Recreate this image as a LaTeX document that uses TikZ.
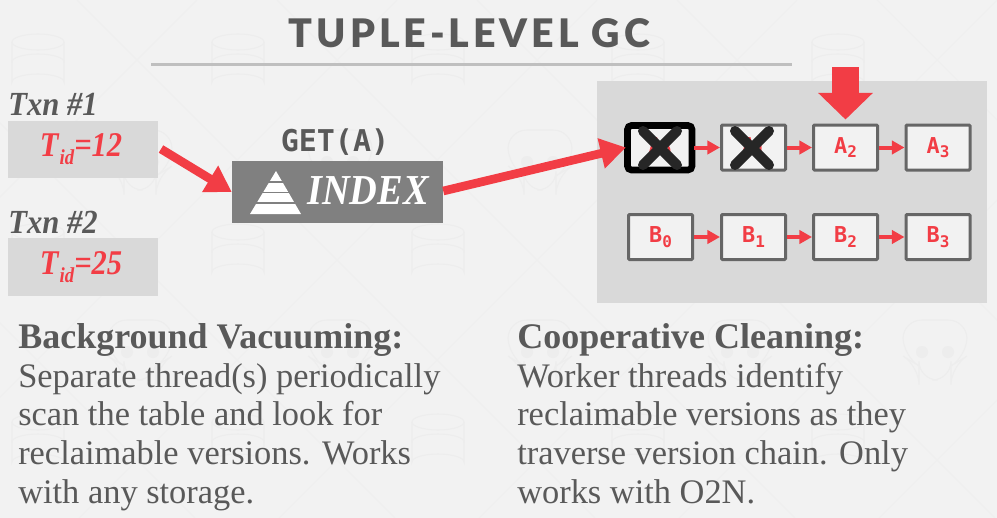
\documentclass[tikz,border=0pt]{standalone}
\usepackage{fontspec}
\usepackage{graphicx}
\usetikzlibrary{arrows.meta}
\setmainfont{Liberation Serif}
\newfontfamily\titlefont[LetterSpace=10]{Lato Black}
\newfontfamily\codefont{DejaVu Sans Mono}
\definecolor{bgc}{HTML}{F2F2F2}
\definecolor{panel}{HTML}{D9D9D9}
\definecolor{redc}{HTML}{F23D45}
\definecolor{darkt}{HTML}{595959}
\definecolor{idx}{HTML}{808080}
\definecolor{xc}{HTML}{262626}
\definecolor{wm}{HTML}{EDEDED}
\newcommand{\ver}[2]{\raisebox{-2.2pt}{#1\raisebox{-3.5pt}{\fontsize{12}{12}\selectfont #2}}}
\newcommand{\tidtext}[1]{\scalebox{0.88}[1]{T\kern1pt\raisebox{-6pt}{\fontsize{16}{16}\selectfont id}=#1}}
\tikzset{
  x=0.75pt,y=-0.75pt,
  verbox/.style={draw=black!60,line width=2.25pt,rounded corners=0.8pt,fill=bgc,minimum width=48pt,minimum height=33.75pt,inner sep=0pt,text=redc,font=\codefont\bfseries\fontsize{16.4}{16.4}\selectfont},
  smallarrow/.style={redc,line width=3pt,-{Triangle[length=9.5pt,width=10pt]}},
  bigarrow/.style={redc,line width=6.5pt,-{Triangle[length=19pt,width=22pt]}},
  crossmark/.style={xc,line width=7.5pt,line cap=round},
  tidbox/.style={fill=panel,minimum width=112.5pt,minimum height=43pt,inner sep=0pt,text=redc,font=\bfseries\itshape\fontsize{26}{26}\selectfont},
  txnlabel/.style={anchor=west,inner sep=0pt,text=darkt,font=\bfseries\itshape\fontsize{23}{23}\selectfont},
  bodytext/.style={anchor=north west,inner sep=0pt,align=left,text=darkt,font=\fontsize{25.8}{29.1}\selectfont},
  wmline/.style={wm,line width=0.8pt}
}
\begin{document}
\begin{tikzpicture}
\useasboundingbox (0,0) rectangle (997,518);
\fill[bgc] (0,0) rectangle (997,518);
% watermark: lattice
\foreach \k in {-3,...,6}{
  \draw[wmline,bgc!50!wm] (137+200*\k-60,0) -- (137+200*\k+458,518);
  \draw[wmline,bgc!50!wm] (137+200*\k+60,0) -- (137+200*\k-458,518);
}
% watermark: cylinders
\foreach \cx/\cy in {38/60,238/60,438/60,638/60,838/60,38/250,238/250,438/250,638/250,38/440,238/440,438/440,638/440,838/440}{
  \draw[wmline] (\cx-26,\cy-18) arc[start angle=180,end angle=-180,x radius=26,y radius=8];
  \draw[wmline] (\cx-26,\cy-18) -- (\cx-26,\cy+22) arc[start angle=180,end angle=360,x radius=26,y radius=8] -- (\cx+26,\cy-18);
  \draw[wmline] (\cx-26,\cy+2) arc[start angle=180,end angle=360,x radius=26,y radius=8];
}
% watermark: skulls
\foreach \cx/\cy in {140/160,340/160,540/160,140/350,340/350,540/350,740/350,935/350}{
  \draw[wmline,rounded corners=14pt] (\cx-32,\cy+6) -- (\cx-32,\cy-30) -- (\cx+32,\cy-30) -- (\cx+32,\cy+6) -- (\cx+16,\cy+16) -- (\cx+16,\cy+30) -- (\cx-16,\cy+30) -- (\cx-16,\cy+16) -- cycle;
  \fill[wm] (\cx-13,\cy+2) circle[radius=6] (\cx+13,\cy+2) circle[radius=6];
}
% title
\node[inner sep=0pt,text=darkt,font=\titlefont\fontsize{29.5}{29.5}\selectfont] (title) at (469.5,33) {TUPLE-LEVEL GC};
\coordinate (ruleL) at (151,64.5);
\coordinate (ruleR) at (792,64.5);
\draw[black!25,line width=1.8pt] (ruleL) -- (ruleR);
% panel
\fill[panel] (597,81) rectangle (987,303);
% left
\node[txnlabel] (txn1) at (8,104) {\scalebox{1}[1.1]{Txn \#1}};
\node[txnlabel] (txn2) at (8,222) {\scalebox{1}[1.1]{Txn \#2}};
\node[tidbox] (t1) at (83,149.5) {\raisebox{-1.5pt}{\kern-3pt\tidtext{12}}};
\node[tidbox] (t2) at (83,267) {\raisebox{-1.5pt}{\kern-3pt\tidtext{25}}};
% index
\node[fill=idx,minimum width=158.25pt,minimum height=46.5pt,inner sep=0pt] (index) at (337.5,192) {};
\node[anchor=west,inner sep=0pt,text=white,font=\bfseries\itshape\fontsize{32}{32}\selectfont] (idxt) at (307,191) {\scalebox{0.9}[1]{INDEX}};
\node[inner sep=0pt,text=darkt,font=\codefont\bfseries\fontsize{22.5}{22.5}\selectfont] (get) at (335,142) {GET(A)};
\fill[white] (276,171) -- (301,214) -- (250,214) -- cycle;
\foreach \yy in {182,192.5,203}{\draw[idx,line width=1.2pt] (250,\yy) -- (301,\yy);}
% versions
\node[verbox,minimum width=49pt] (a0) at (660,147.5) {\ver{A}{0}};
\draw[black,line width=5pt,rounded corners=3pt] (627.5,125.5) rectangle (692,170);
\node[verbox] (a1) at (753.5,147.5) {\ver{A}{1}};
\node[verbox] (a2) at (845.5,147.5) {\ver{A}{2}};
\node[verbox] (a3) at (938,147.5) {\ver{A}{3}};
\node[verbox] (b0) at (660.5,237) {\ver{B}{0}};
\node[verbox] (b1) at (753.5,237) {\ver{B}{1}};
\node[verbox] (b2) at (845.5,237) {\ver{B}{2}};
\node[verbox] (b3) at (938,237) {\ver{B}{3}};
\draw[crossmark] (643,131) -- (677,165) (643,165) -- (677,131);
\draw[crossmark] (735,131) -- (769,165) (735,165) -- (769,131);
% connectors
\foreach \u/\v in {a0/a1,a1/a2,a2/a3,b0/b1,b1/b2,b2/b3}{\draw[smallarrow] (\u.east) -- (\v.west);}
\coordinate (c1) at (161,149);
\draw[bigarrow] (c1) -- (index.west);
\draw[bigarrow] (index.east) ++(0,-1) -- (a0.west);
\coordinate (downs) at (845.5,67);
\draw[redc,line width=20pt,-{Triangle[length=20pt,width=40pt]},shorten >=3pt] (downs) -- (a2.north);
% body
\node[bodytext] (left) at (18,323) {{\fontsize{27}{29.1}\selectfont\textbf{Background Vacuuming:}}\\Separate thread(s) periodically\\scan the table and look for\\reclaimable versions. Works\\with any storage.};
\node[bodytext] (right) at (517,323) {{\fontsize{27}{29.1}\selectfont\textbf{Cooperative Cleaning:}}\\Worker threads identify\\reclaimable versions as they\\traverse version chain. Only\\works with O2N.};
\end{tikzpicture}
\end{document}
